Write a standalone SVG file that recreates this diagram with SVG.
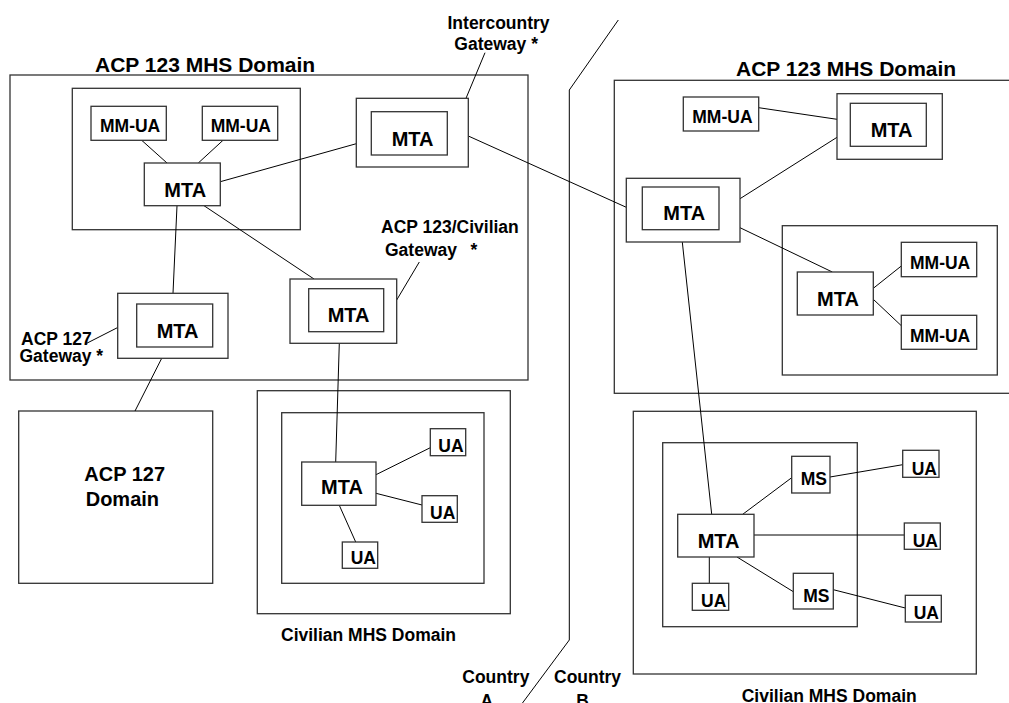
<svg xmlns="http://www.w3.org/2000/svg" width="1009" height="703" viewBox="0 0 1009 703">
<style>
.b{fill:#fff;stroke:#333;stroke-width:1.3}
.d{fill:none;stroke:#333;stroke-width:1.3}
.c line,.c polyline{stroke:#000;stroke-width:1;fill:none}
text{font-family:"Liberation Sans",Arial,sans-serif;font-weight:bold;fill:#000}
.n{font-size:17.5px}
.m{font-size:20px}
.t{font-size:21px}
.l{font-size:17.5px}
</style>
<rect width="1009" height="703" fill="#fff"/>
<!-- domains -->
<g id="left-acp123-domain"><rect class="d" x="10" y="75" width="518" height="305"/><text class="t" x="95" y="71.5">ACP 123 MHS Domain</text></g>
<g id="left-inner-group"><rect class="d" x="72.3" y="88.3" width="228" height="141.4"/></g>
<g id="right-acp123-domain"><rect class="d" x="614.3" y="80.3" width="400" height="313"/><text class="t" x="736" y="76">ACP 123 MHS Domain</text></g>
<g id="right-inner-group"><rect class="d" x="782.3" y="225.7" width="215" height="149.3"/></g>
<g id="acp127-domain"><rect class="d" x="18.7" y="411" width="194" height="172.3"/><text class="m" x="84.3" y="481">ACP 127</text><text class="m" x="85.7" y="505.7">Domain</text></g>
<g id="civ-left-domain"><rect class="d" x="257.3" y="390.7" width="253" height="223"/><rect class="d" x="281.7" y="412.7" width="202.3" height="170.6"/><text class="l" x="281" y="640.7">Civilian MHS Domain</text></g>
<g id="civ-right-domain"><rect class="d" x="633.3" y="411.3" width="343" height="262.7"/><rect class="d" x="662.7" y="442.7" width="194.6" height="184"/><text class="l" x="741.7" y="701.5">Civilian MHS Domain</text></g>
<!-- connectors -->
<g class="c" id="connectors">
<line x1="141.7" y1="140.3" x2="167" y2="163"/>
<line x1="223" y1="140.3" x2="198.3" y2="163"/>
<line x1="220.3" y1="181.7" x2="356.3" y2="143.7"/>
<line x1="204" y1="205.7" x2="314" y2="279"/>
<line x1="177" y1="205.7" x2="173" y2="293.3"/>
<line x1="466" y1="98.3" x2="485" y2="52.7"/>
<line x1="419.3" y1="262" x2="396.7" y2="300"/>
<line x1="86.7" y1="343.3" x2="117.7" y2="327.5"/>
<line x1="161.7" y1="358.3" x2="135" y2="411"/>
<line x1="339.3" y1="343.3" x2="335.7" y2="462"/>
<line x1="376" y1="474.7" x2="430.3" y2="447.7"/>
<line x1="376" y1="493.3" x2="422" y2="505"/>
<line x1="339.3" y1="505.3" x2="355.7" y2="542"/>
<line x1="468.3" y1="136" x2="626.3" y2="207.3"/>
<line x1="758.7" y1="107.7" x2="837" y2="119.3"/>
<line x1="740" y1="198.7" x2="837" y2="137.3"/>
<line x1="740" y1="227.7" x2="832.3" y2="272"/>
<line x1="682.3" y1="242" x2="711.7" y2="514.3"/>
<line x1="873.3" y1="288.3" x2="901.3" y2="266"/>
<line x1="873.3" y1="299.3" x2="901.3" y2="325.7"/>
<line x1="742.7" y1="514.3" x2="791.7" y2="477.7"/>
<line x1="754" y1="535" x2="904.3" y2="535"/>
<line x1="709.3" y1="557" x2="709.3" y2="583.3"/>
<line x1="737" y1="557" x2="793.3" y2="591.7"/>
<line x1="830" y1="477" x2="902.7" y2="464.7"/>
<line x1="833.3" y1="589.7" x2="905.3" y2="608"/>
<polyline points="618.3,20 569.3,90 569.3,640 521,705"/>
</g>
<!-- nodes -->
<g id="mmua-l1"><rect class="b" x="91" y="106.3" width="75.3" height="34"/><text class="n" x="100" y="131.7">MM-UA</text></g>
<g id="mmua-l2"><rect class="b" x="202.3" y="106.3" width="75.4" height="34"/><text class="n" x="210.7" y="131.7">MM-UA</text></g>
<g id="mta-l1"><rect class="b" x="144.3" y="163" width="76" height="42.7"/><text class="m" x="164.3" y="196.7">MTA</text></g>
<g id="intercountry-gw"><rect class="b" x="356.3" y="98.3" width="112" height="68.7"/><rect class="b" x="371.3" y="111.7" width="76" height="43.3"/><text class="m" x="391.7" y="145.7">MTA</text>
<text class="l" x="447.5" y="29.3">Intercountry</text><text class="l" x="454.3" y="50">Gateway *</text></g>
<g id="civilian-gw"><rect class="b" x="290" y="279" width="106.7" height="64.3"/><rect class="b" x="308.7" y="288.7" width="75" height="43"/><text class="m" x="327.7" y="321.7">MTA</text>
<text class="l" x="381" y="233.3">ACP 123/Civilian</text><text class="l" x="385" y="256">Gateway<tspan x="470.5">*</tspan></text></g>
<g id="acp127-gw"><rect class="b" x="117.7" y="293.3" width="110.3" height="65"/><rect class="b" x="136.7" y="304" width="76" height="43"/><text class="m" x="156.7" y="338.3">MTA</text>
<text class="l" x="21" y="345">ACP 127</text><text class="l" x="19.5" y="362">Gateway *</text></g>
<g id="mta-civ-l"><rect class="b" x="301.7" y="462" width="74.3" height="43.3"/><text class="m" x="321" y="494.3">MTA</text></g>
<g id="ua-civ-l1"><rect class="b" x="430.3" y="428.7" width="35.4" height="27"/><text class="n" x="438.3" y="452.3">UA</text></g>
<g id="ua-civ-l2"><rect class="b" x="422" y="495.7" width="35.3" height="26.6"/><text class="n" x="430" y="518.7">UA</text></g>
<g id="ua-civ-l3"><rect class="b" x="342.3" y="542" width="35.4" height="26.3"/><text class="n" x="350.7" y="564.3">UA</text></g>
<g id="mmua-r1"><rect class="b" x="683.3" y="97" width="75.4" height="34"/><text class="n" x="692.3" y="122.7">MM-UA</text></g>
<g id="mta-r-gw"><rect class="b" x="837" y="93.7" width="105.3" height="65.6"/><rect class="b" x="850.3" y="103.3" width="76" height="43"/><text class="m" x="870.7" y="136.7">MTA</text></g>
<g id="mta-r-main"><rect class="b" x="626.3" y="178.3" width="113.7" height="63.7"/><rect class="b" x="642.3" y="187" width="76.7" height="42.7"/><text class="m" x="663.3" y="220">MTA</text></g>
<g id="mta-r-inner"><rect class="b" x="797.3" y="272" width="76" height="43"/><text class="m" x="817" y="305.7">MTA</text></g>
<g id="mmua-r2"><rect class="b" x="901.3" y="242.3" width="75.4" height="34.4"/><text class="n" x="910" y="268.7">MM-UA</text></g>
<g id="mmua-r3"><rect class="b" x="901.3" y="315.3" width="75.4" height="34"/><text class="n" x="910" y="341.7">MM-UA</text></g>
<g id="mta-civ-r"><rect class="b" x="677.7" y="514.3" width="76.3" height="42.7"/><text class="m" x="697.7" y="548.3">MTA</text></g>
<g id="ms-1"><rect class="b" x="791.7" y="456.3" width="38.3" height="36.7"/><text class="n" x="800.7" y="485">MS</text></g>
<g id="ms-2"><rect class="b" x="793.3" y="573.3" width="40" height="35.7"/><text class="n" x="803.3" y="601.7">MS</text></g>
<g id="ua-civ-r0"><rect class="b" x="692.3" y="583.3" width="36.4" height="27"/><text class="n" x="701" y="607.3">UA</text></g>
<g id="ua-civ-r1"><rect class="b" x="902.7" y="450.3" width="36.3" height="27"/><text class="n" x="911.7" y="475">UA</text></g>
<g id="ua-civ-r2"><rect class="b" x="904.3" y="523" width="36" height="26.3"/><text class="n" x="912.7" y="546.7">UA</text></g>
<g id="ua-civ-r3"><rect class="b" x="905.3" y="595.3" width="36" height="26.7"/><text class="n" x="913.7" y="619.3">UA</text></g>
<g id="country-labels">
<text class="l" x="462.3" y="683.3">Country</text><text class="l" x="486.7" y="706.5" text-anchor="middle">A</text>
<text class="l" x="554" y="683.3">Country</text><text class="l" x="582.5" y="706.5" text-anchor="middle">B</text>
</g>
</svg>
